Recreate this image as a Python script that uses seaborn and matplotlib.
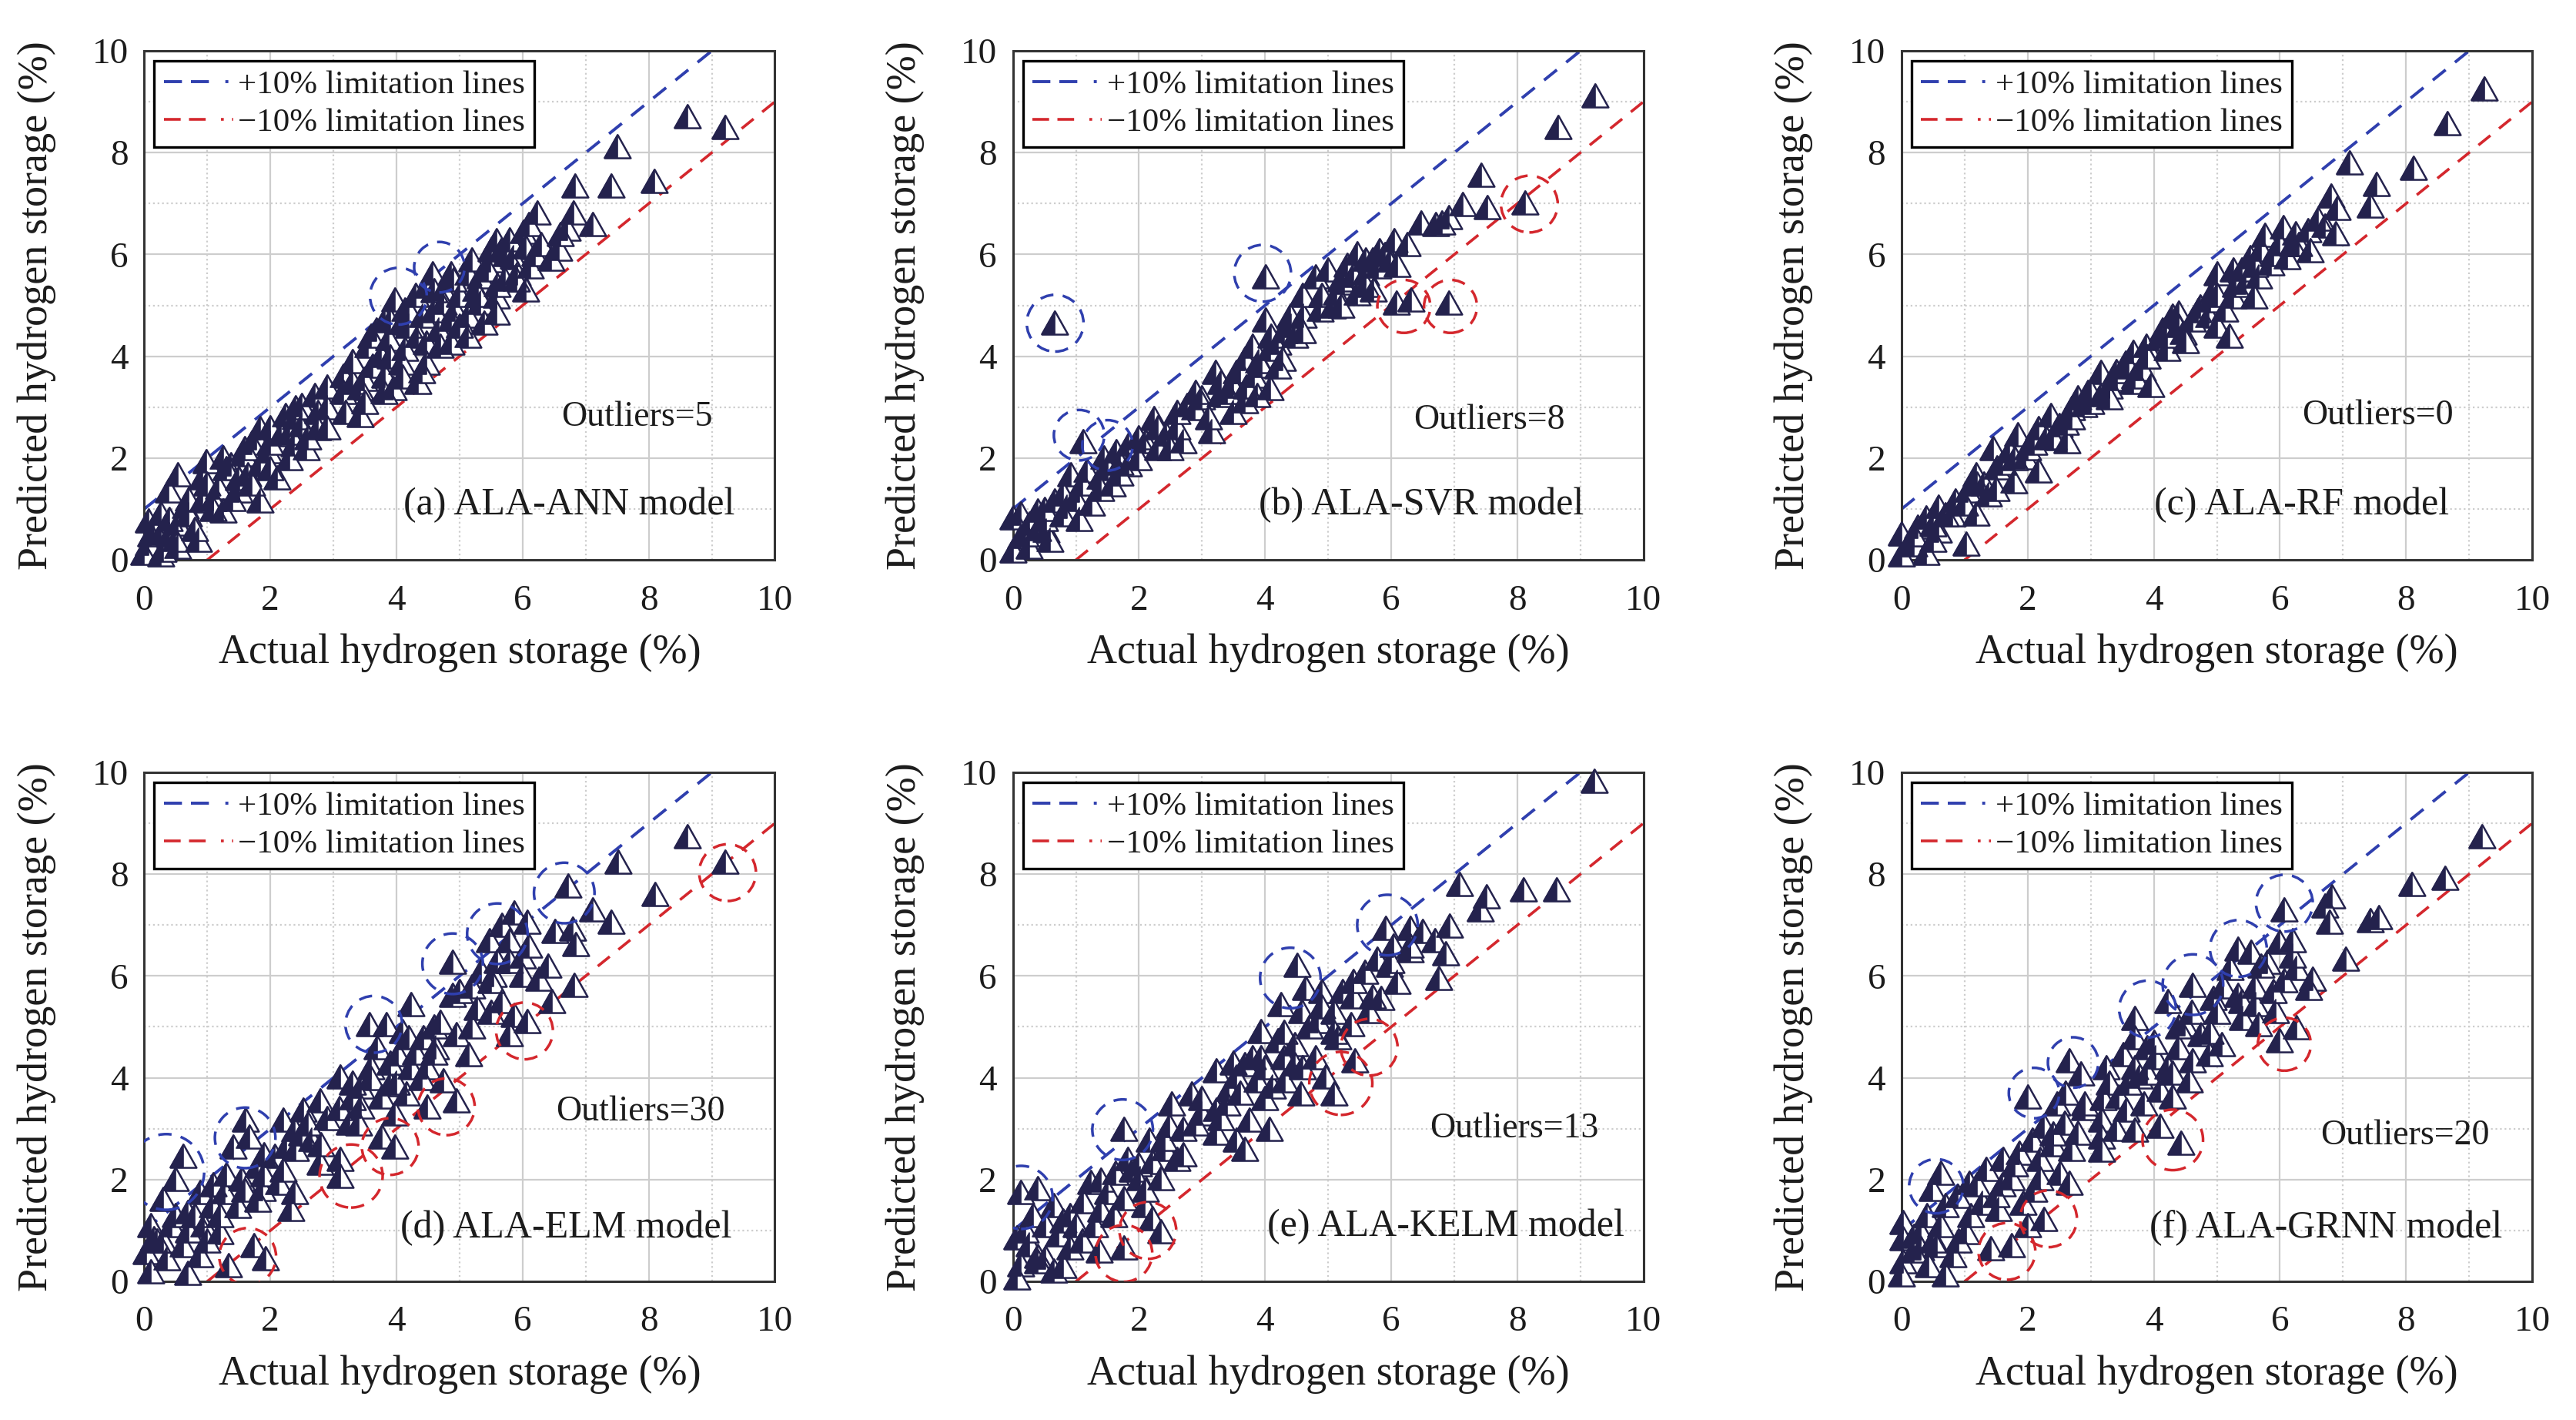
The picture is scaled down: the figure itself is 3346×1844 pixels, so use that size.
import matplotlib
matplotlib.use("Agg")
import matplotlib.pyplot as plt
from matplotlib.markers import MarkerStyle
from matplotlib.patches import Ellipse
from matplotlib.lines import Line2D
from matplotlib.ticker import MultipleLocator
from matplotlib.transforms import Affine2D
import seaborn as sns

# ---- data (actual vs predicted, %) ----
ann_actual = [8.62, 9.21, 7.50, 6.83, 7.40, 8.09, 6.24, 6.81, 7.11, 6.71,
              6.02, 5.59, 6.58, 6.45, 6.05, 5.86, 5.66, 5.49, 6.12, 5.92,
              5.72, 5.33, 5.13, 4.87, 4.57, 4.47, 3.98, 4.74, 5.26, 5.59,
              6.05, 5.33, 4.93, 4.74, 4.14, 3.82, 3.68, 4.08, 4.41, 4.87,
              5.13, 5.59, 5.39, 4.67, 4.34, 3.88, 3.55, 5.13, 4.87, 4.47,
              4.14, 3.75, 4.08, 3.62, 4.47, 3.16, 3.49, 3.82, 4.34, 3.95,
              3.42, 3.16, 3.42, 2.70, 2.76, 2.50, 2.24, 2.50, 2.76, 2.17,
              1.84, 1.78, 2.37, 2.57, 1.97, 1.58, 1.38, 1.84, 2.11, 1.64,
              1.25, 0.99, 0.92, 0.53, 1.18, 1.51, 1.84, 0.92, 0.39, 0.66,
              1.25, 0.26, 0.07, 0.53, 0.86, 0.26, 0.07, 0.53, 0.00, 0.26,
              5.75, 5.45, 6.20, 5.00, 4.60, 4.20, 3.90, 3.30, 2.90, 2.40,
              2.00, 1.50, 1.10, 0.70, 0.40, 0.15, 1.70, 2.30,
              3.30, 3.60, 3.90, 4.20, 4.30, 4.60, 4.90, 5.20, 5.50, 5.80,
              6.10, 6.30, 6.60, 5.90, 5.60, 5.30, 5.00, 4.70, 4.40, 4.10,
              3.80, 3.50, 3.20, 2.90, 2.60, 2.30, 2.00, 1.70, 1.40, 1.10,
              0.80, 0.50, 0.30, 0.10, 0.40, 0.70, 1.00, 1.30, 1.60, 2.00,
              2.40, 2.90]
ann_pred = [8.71, 8.51, 8.12, 7.35, 7.35, 7.44, 6.83, 6.83, 6.60, 6.50,
            6.44, 6.28, 6.12, 5.92, 6.15, 5.95, 6.08, 5.89, 5.76, 5.63,
            5.50, 5.57, 5.63, 5.63, 5.63, 5.37, 5.11, 5.31, 5.31, 5.18,
            5.31, 5.05, 4.92, 5.05, 4.92, 4.72, 4.53, 4.66, 4.79, 4.72,
            4.79, 4.85, 4.66, 4.53, 4.40, 4.34, 4.21, 4.40, 4.27, 4.27,
            4.14, 4.01, 3.88, 3.82, 3.88, 3.62, 3.56, 3.62, 3.50, 3.37,
            3.37, 3.30, 2.85, 3.24, 2.91, 3.04, 2.85, 2.65, 2.59, 2.46,
            2.59, 2.39, 2.27, 2.20, 2.14, 2.07, 1.88, 1.88, 1.62, 1.68,
            2.01, 1.94, 1.62, 1.68, 1.42, 1.36, 1.17, 1.17, 1.36, 1.04,
            0.97, 0.91, 0.78, 0.71, 0.39, 0.52, 0.32, 0.26, 0.13, 0.10,
            6.00, 5.70, 6.00, 5.20, 4.90, 4.60, 4.00, 3.50, 3.00, 2.80,
            2.30, 1.60, 1.20, 0.90, 0.50, 0.60, 2.30, 2.50,
            3.90, 4.40, 4.70, 4.90, 5.20, 5.30, 5.50, 5.90, 6.10, 6.30,
            6.60, 6.20, 6.40, 5.50, 5.40, 5.20, 4.60, 4.20, 3.70, 3.60,
            3.30, 3.10, 2.90, 2.60, 2.40, 2.00, 1.80, 1.50, 1.20, 1.00,
            0.60, 0.40, 0.20, 0.50, 0.80, 1.20, 1.50, 1.80, 2.20, 2.60,
            3.00, 3.40]

svr_actual = [9.24, 8.65, 7.43, 8.12, 7.53, 7.14, 6.91, 6.71, 6.48, 6.80,
              6.25, 6.05, 5.82, 5.46, 5.99, 5.79, 5.59, 5.00, 4.80, 4.01,
              5.26, 5.46, 5.72, 5.13, 6.09, 6.32, 6.91, 5.07, 4.87, 4.61,
              4.41, 4.01, 4.47, 4.21, 4.08, 0.66, 4.28, 3.95, 3.68, 3.55,
              3.82, 3.22, 4.08, 3.88, 3.68, 3.49, 3.29, 2.76, 2.89, 3.16,
              2.24, 2.43, 2.70, 2.11, 1.84, 1.64, 1.12, 1.45, 1.84, 1.18,
              0.92, 1.38, 1.58, 1.05, 1.25, 0.86, 0.66, 0.39, 0.13, 0.00,
              0.26, 0.53, 0.13, 0.59, 0.00, 0.26, 1.05, 4.60, 5.30, 5.60,
              2.00, 2.30, 3.00, 3.50, 1.50, 0.80, 0.40,
              5.20, 5.70, 4.30, 3.90, 3.40, 2.60, 1.70, 1.00, 0.50,
              0.20, 0.50, 0.80, 1.10, 1.40, 1.70, 2.00, 2.30, 2.60, 2.90,
              3.30, 3.60, 3.80, 4.10, 4.40, 4.60, 4.90, 5.20, 5.40, 5.60,
              5.90, 6.10, 4.20, 3.70, 3.10, 2.50]
svr_pred = [9.12, 8.51, 7.57, 7.02, 6.93, 6.99, 6.73, 6.60, 6.63, 6.62,
            6.21, 6.28, 6.08, 6.02, 5.89, 5.76, 5.63, 5.70, 5.57, 5.57,
            5.44, 5.24, 5.31, 5.24, 5.05, 5.11, 5.05, 4.98, 4.92, 4.79,
            4.60, 4.72, 4.40, 4.27, 4.14, 4.66, 3.95, 3.82, 3.95, 3.69,
            3.62, 3.69, 3.37, 3.24, 3.11, 2.91, 3.24, 3.04, 2.98, 2.52,
            2.78, 2.46, 2.33, 2.33, 2.27, 2.14, 2.33, 2.01, 1.88, 1.75,
            1.68, 1.62, 1.49, 1.36, 1.10, 1.04, 1.17, 0.97, 0.91, 0.84,
            0.71, 0.58, 0.45, 0.39, 0.19, 0.26, 0.80, 5.20, 5.80, 5.90,
            2.00, 2.20, 3.20, 3.40, 1.80, 1.30, 0.60,
            5.50, 5.90, 4.50, 3.90, 3.30, 2.60, 1.90, 1.20, 0.80,
            0.50, 1.00, 0.90, 1.50, 1.40, 1.70, 2.40, 2.60, 2.90, 3.30,
            3.50, 3.70, 4.20, 4.40, 4.80, 4.50, 5.20, 5.00, 5.60, 5.40,
            6.00, 5.80, 3.80, 3.40, 2.80, 2.20]

rf_actual = [9.24, 8.65, 7.11, 8.12, 7.53, 7.43, 6.81, 6.91, 6.71, 6.88,
             6.45, 6.48, 6.25, 6.05, 5.76, 5.99, 6.12, 5.86, 5.53, 5.66,
             5.46, 5.00, 5.26, 5.59, 5.26, 5.13, 4.74, 4.87, 4.61, 5.00,
             5.20, 4.47, 4.14, 4.08, 4.21, 3.88, 3.68, 3.55, 3.82, 3.16,
             3.42, 3.68, 3.95, 3.16, 2.89, 2.70, 2.37, 2.50, 2.17, 2.63,
             2.30, 1.84, 1.45, 1.71, 1.97, 2.17, 1.51, 1.18, 1.78, 1.05,
             1.38, 0.86, 0.59, 1.18, 0.39, 0.26, 0.00, 0.59, 1.02, 0.13,
             0.39, 0.00, 4.40, 4.95, 3.30, 2.95,
             5.70, 5.40, 6.30, 4.90, 4.40, 3.90, 3.40, 3.00, 2.60, 2.00,
             1.60, 1.30, 0.80, 0.50, 0.20,
             0.20, 0.50, 0.70, 1.00, 1.20, 1.50, 1.80, 2.10, 2.40, 2.70,
             3.00, 3.30, 3.60, 3.90, 4.20, 4.50, 4.70, 5.00, 5.30, 5.60,
             5.90, 6.20, 6.60, 4.30, 3.70, 2.80]
rf_pred = [9.26, 8.58, 7.80, 7.70, 7.38, 6.96, 7.15, 6.92, 6.57, 6.41,
           6.47, 6.08, 6.41, 6.54, 6.38, 6.21, 5.95, 5.83, 5.95, 5.57,
           5.44, 5.63, 5.70, 5.18, 5.18, 4.92, 4.98, 4.79, 4.72, 4.60,
           4.40, 4.47, 4.53, 4.34, 4.14, 4.21, 4.08, 3.88, 3.75, 3.69,
           3.56, 3.50, 3.43, 3.24, 3.04, 2.98, 2.85, 2.65, 2.59, 2.33,
           2.39, 2.46, 2.20, 2.14, 2.01, 1.75, 1.81, 1.68, 1.55, 1.36,
           1.29, 1.17, 1.04, 0.91, 0.84, 0.65, 0.52, 0.58, 0.32, 0.32,
           0.13, 0.10, 4.85, 5.30, 3.40, 3.30,
           6.10, 5.70, 6.20, 5.10, 4.60, 4.00, 3.70, 3.10, 2.70, 2.20,
           1.90, 1.50, 0.90, 0.70, 0.30,
           0.50, 0.40, 0.90, 1.10, 1.50, 1.40, 2.00, 2.30, 2.40, 2.80,
           3.30, 3.20, 3.80, 4.00, 4.40, 4.30, 4.90, 5.20, 5.40, 5.80,
           6.00, 6.20, 6.70, 4.80, 3.60, 3.20]

elm_actual = [8.62, 9.21, 7.51, 6.72, 8.10, 7.11, 7.41, 6.52, 6.79, 6.85,
              5.87, 6.07, 5.67, 5.48, 5.80, 6.00, 4.89, 5.34, 5.54, 6.00,
              6.26, 6.82, 6.46, 4.89, 4.23, 5.28, 5.67, 5.87, 6.07, 5.80,
              3.57, 3.84, 4.10, 4.43, 4.95, 4.62, 5.15, 3.70, 4.03, 4.23,
              4.49, 4.75, 3.90, 3.44, 3.11, 3.77, 4.16, 4.49, 4.95, 3.44,
              3.25, 3.97, 3.77, 3.97, 2.79, 2.52, 2.20, 2.39, 2.66, 2.79,
              3.11, 3.11, 2.26, 2.07, 1.61, 1.67, 1.41, 1.80, 1.54, 2.13,
              2.39, 1.87, 1.28, 1.48, 2.33, 0.62, 0.49, 0.30, 0.89, 1.08,
              0.69, 0.43, 0.95, 1.21, 0.10, 0.16, 0.62, 0.03, 0.36, 0.89,
              1.74, 1.93, 1.34, 0.10, 0.69,
              5.20, 5.60, 4.60, 4.30, 3.60, 3.30, 2.90, 2.40, 1.90, 1.20,
              0.70, 0.30, 4.00, 5.50,
              0.20, 0.50, 0.80, 1.00, 1.30, 1.60, 1.90, 2.20, 2.50, 2.80,
              3.10, 3.40, 3.60, 3.90, 4.20, 4.40, 4.70, 5.00, 5.20, 5.50,
              5.80, 6.10, 6.40, 4.60, 3.30, 2.60, 1.80, 1.10]
elm_pred = [8.74, 8.25, 8.25, 7.77, 7.61, 7.31, 7.06, 6.89, 6.93, 6.63,
            7.25, 7.06, 7.00, 6.70, 6.70, 6.38, 6.28, 6.09, 6.02, 6.02,
            5.95, 5.83, 5.50, 5.63, 5.44, 5.37, 5.50, 5.24, 5.11, 4.85,
            5.05, 5.05, 4.92, 4.79, 4.85, 4.60, 4.47, 4.60, 4.47, 4.21,
            4.21, 3.95, 3.88, 3.82, 4.02, 3.63, 3.69, 3.43, 3.56, 3.43,
            3.11, 3.30, 2.85, 2.65, 3.56, 3.37, 3.17, 2.98, 2.78, 2.33,
            2.40, 2.08, 2.65, 2.46, 3.17, 2.85, 2.65, 2.27, 2.01, 1.94,
            1.75, 1.81, 1.75, 1.49, 1.42, 2.46, 2.01, 1.62, 1.75, 1.49,
            1.36, 1.10, 1.10, 0.97, 1.10, 0.84, 0.71, 0.58, 0.45, 0.52,
            0.71, 0.45, 0.32, 0.19, 0.16,
            5.80, 6.30, 5.00, 4.50, 4.20, 3.60, 3.20, 2.60, 2.10, 1.30,
            1.00, 0.80, 3.90, 5.30,
            0.80, 1.30, 1.30, 0.80, 2.10, 1.80, 2.50, 2.20, 2.90, 2.70,
            3.40, 3.10, 4.00, 4.30, 4.80, 4.00, 5.10, 5.70, 5.00, 5.90,
            6.30, 6.60, 6.20, 4.50, 3.90, 3.10, 1.60, 1.90]

kelm_actual = [9.22, 7.08, 7.51, 8.10, 8.62, 7.41, 5.91, 6.30, 6.50, 6.93,
               6.70, 6.86, 6.76, 6.04, 5.78, 5.58, 5.97, 6.10, 5.84, 5.65,
               4.51, 4.64, 4.90, 5.23, 4.25, 4.58, 4.84, 5.36, 5.16, 5.42,
               3.94, 4.21, 4.47, 4.80, 4.47, 3.94, 3.68, 3.55, 3.87, 4.12,
               4.32, 4.96, 5.09, 4.57, 3.23, 3.42, 2.84, 2.52, 3.23, 3.75,
               4.07, 3.23, 3.55, 3.68, 1.76, 2.16, 2.48, 2.41, 2.61, 2.22,
               1.82, 1.63, 2.02, 2.35, 1.24, 1.50, 1.76, 2.09, 2.22, 2.35,
               1.76, 1.11, 0.91, 1.30, 0.65, 0.39, 0.13, 0.32, 0.52, 0.07,
               0.26, 0.72, 0.91, 1.37, 0.52, 0.13, 0.65, 0.07,
               5.40, 5.10, 4.30, 4.00, 3.00, 2.70, 2.00, 1.40, 1.00, 0.40,
               0.80, 6.30, 3.40,
               0.20, 0.40, 0.80, 1.10, 1.40, 1.60, 1.90, 2.10, 2.40, 2.70,
               3.00, 3.30, 3.60, 3.80, 4.00, 4.30, 4.60, 4.90, 5.10, 5.40,
               5.70, 6.00, 6.30, 4.70, 3.50, 2.90]
kelm_pred = [9.84, 7.80, 7.57, 7.70, 7.70, 7.31, 6.95, 6.95, 6.89, 6.99,
             6.70, 6.44, 5.96, 6.60, 6.34, 6.08, 6.21, 5.89, 5.57, 5.31,
             6.21, 5.76, 5.70, 5.70, 5.44, 5.31, 5.11, 5.05, 4.79, 4.34,
             4.92, 4.73, 4.66, 4.40, 4.27, 4.40, 4.27, 4.02, 3.95, 3.82,
             3.95, 4.02, 3.69, 3.69, 4.15, 3.76, 3.69, 3.50, 3.37, 3.18,
             2.99, 2.92, 2.79, 2.60, 2.99, 2.79, 3.05, 2.60, 2.40, 2.34,
             2.40, 2.14, 2.02, 2.02, 1.95, 1.76, 1.63, 1.50, 1.24, 0.99,
             0.67, 1.57, 1.30, 1.11, 1.50, 1.83, 1.76, 1.30, 1.11, 0.86,
             0.73, 0.92, 0.67, 0.60, 0.47, 0.34, 0.21, 0.08,
             5.60, 5.30, 4.40, 4.20, 3.30, 3.00, 2.30, 1.40, 1.10, 0.50,
             0.30, 6.50, 3.50,
             1.00, 0.40, 1.20, 0.80, 2.00, 1.30, 2.20, 1.80, 2.80, 2.50,
             3.60, 3.20, 3.70, 4.40, 3.60, 4.90, 4.20, 5.40, 4.90, 5.90,
             5.60, 6.30, 6.60, 5.00, 4.30, 3.10]

grnn_actual = [9.21, 8.62, 8.10, 6.82, 6.72, 7.44, 7.57, 6.79, 6.07, 7.05,
               6.00, 5.34, 5.54, 5.80, 6.26, 6.52, 6.46, 6.07, 5.21, 4.62,
               4.23, 4.95, 5.34, 5.61, 5.93, 5.41, 5.67, 6.26, 6.00, 3.70,
               4.49, 4.75, 5.08, 4.88, 4.62, 3.90, 3.70, 3.51, 4.03, 4.23,
               3.77, 4.56, 4.10, 4.30, 3.44, 3.57, 3.84, 2.66, 2.85, 3.25,
               2.00, 2.46, 2.26, 2.59, 2.79, 3.18, 3.18, 3.18, 3.70, 4.10,
               4.43, 2.07, 1.87, 1.61, 2.20, 2.52, 2.66, 2.20, 1.74, 1.34,
               1.08, 0.62, 0.49, 0.89, 1.28, 1.54, 1.93, 2.26, 2.00, 1.74,
               1.41, 0.03, 0.30, 0.62, 1.02, 0.03, 0.30, 0.56, 0.82, 0.03,
               0.43, 0.00, 0.69,
               5.00, 5.60, 6.20, 4.40, 3.30, 2.90, 2.40, 1.60, 1.10, 0.50,
               0.20, 3.90,
               0.20, 0.40, 0.70, 0.90, 1.20, 1.50, 1.80, 2.10, 2.40, 2.70,
               2.90, 3.20, 3.40, 3.70, 4.00, 4.30, 4.60, 4.90, 5.10, 5.40,
               5.70, 5.90, 6.20, 4.40, 3.60, 2.60]
grnn_pred = [8.74, 7.93, 7.80, 7.57, 7.38, 7.09, 7.15, 7.06, 7.31, 6.34,
             6.67, 6.54, 6.47, 6.28, 6.15, 5.95, 5.76, 5.92, 6.15, 5.83,
             5.50, 5.57, 5.63, 5.44, 5.31, 5.18, 5.05, 4.99, 4.73, 5.18,
             5.05, 4.85, 4.66, 4.47, 4.34, 4.60, 4.79, 4.47, 4.40, 4.21,
             4.02, 3.95, 3.76, 3.63, 3.63, 3.37, 3.50, 4.34, 4.08, 4.21,
             3.63, 3.50, 3.05, 3.11, 2.92, 3.18, 2.85, 2.59, 2.98, 3.05,
             2.72, 2.79, 2.53, 2.40, 2.40, 2.14, 1.94, 2.02, 2.02, 2.21,
             1.94, 2.14, 1.81, 1.68, 1.55, 1.42, 1.55, 1.23, 1.10, 0.71,
             0.65, 1.17, 0.97, 1.10, 0.97, 0.84, 0.65, 0.71, 0.52, 0.39,
             0.32, 0.13, 0.13,
             5.30, 5.80, 6.40, 4.60, 3.90, 3.40, 2.70, 1.90, 1.30, 0.80,
             0.60, 4.10,
             0.90, 1.30, 1.50, 0.80, 1.90, 1.70, 2.30, 1.80, 2.90, 2.60,
             3.50, 3.60, 3.00, 4.20, 4.70, 4.10, 5.30, 4.90, 5.80, 5.50,
             6.20, 5.70, 6.70, 5.00, 3.90, 3.70]

# circled outliers: (centre x, centre y, radius in x units)
ann_over = [(4.03, 5.18, 0.45), (4.68, 5.75, 0.40)]
ann_under = []
svr_over = [(0.67, 4.65, 0.45), (3.96, 5.63, 0.45), (1.05, 2.45, 0.40), (1.50, 2.25, 0.40)]
svr_under = [(8.19, 6.99, 0.45), (6.20, 4.98, 0.42), (6.94, 4.98, 0.42)]
rf_over = []
rf_under = []
elm_over = [(0.35, 2.15, 0.60), (1.60, 2.82, 0.48), (3.64, 5.05, 0.45),
            (4.89, 6.24, 0.48), (5.60, 6.83, 0.48), (6.66, 7.63, 0.48)]
elm_under = [(9.25, 8.03, 0.45), (6.03, 4.92, 0.45), (4.79, 3.43, 0.45),
             (3.90, 2.65, 0.45), (3.28, 2.07, 0.50), (1.64, 0.49, 0.45)]
kelm_over = [(0.13, 1.65, 0.50), (1.74, 2.98, 0.48), (4.40, 5.96, 0.48), (5.94, 7.00, 0.48)]
kelm_under = [(2.14, 1.00, 0.45), (1.76, 0.55, 0.45), (5.20, 3.89, 0.50), (5.65, 4.60, 0.45)]
grnn_over = [(0.55, 1.87, 0.43), (2.10, 3.70, 0.40), (2.72, 4.30, 0.40), (3.90, 5.35, 0.45),
             (4.62, 5.83, 0.48), (5.34, 6.54, 0.45), (6.07, 7.43, 0.45)]
grnn_under = [(6.07, 4.66, 0.42), (4.30, 2.78, 0.48), (2.33, 1.23, 0.45), (1.67, 0.59, 0.45)]

panel_titles = ["(a) ALA-ANN model", "(b) ALA-SVR model", "(c) ALA-RF model",
                "(d) ALA-ELM model", "(e) ALA-KELM model", "(f) ALA-GRNN model"]
outlier_counts = [5, 8, 0, 30, 13, 20]

# +/- limitation lines (end points)
upper_x, upper_y = [0, 9], [1, 10]
lower_x, lower_y = [1, 10], [0, 9]

panels = [
    (ann_actual, ann_pred, ann_over, ann_under),
    (svr_actual, svr_pred, svr_over, svr_under),
    (rf_actual, rf_pred, rf_over, rf_under),
    (elm_actual, elm_pred, elm_over, elm_under),
    (kelm_actual, kelm_pred, kelm_over, kelm_under),
    (grnn_actual, grnn_pred, grnn_over, grnn_under),
]

# ---- styling ----
sns.set_theme(style="white")
plt.rcParams["font.family"] = ["Liberation Serif", "DejaVu Serif"]

navy = "#24224d"
blue = "#2f3fae"
red = "#d4272d"
gridc = "#cdcdcd"
textc = "#1c1c1c"

W, H = 3346, 1844
fig = plt.figure(figsize=(W / 100, H / 100), dpi=100)

lefts = [0.0560, 0.3932, 0.7382]
bottoms = [0.6057, 0.0976]
aw, ah = 0.2448, 0.3585

text_pos = [(0.674, 0.107, 0.781, 0.281), (0.648, 0.107, 0.755, 0.275),
            (0.634, 0.107, 0.755, 0.284), (0.669, 0.105, 0.787, 0.333),
            (0.686, 0.108, 0.795, 0.300), (0.673, 0.105, 0.798, 0.286)]

# triangles are a little wider than tall in the original
widen = Affine2D().scale(1.12, 1.0)
full_tri = MarkerStyle("^", transform=widen)
half_tri = MarkerStyle("^", fillstyle="left", transform=widen)
msize = 470
limit_ls = (0, (5.5, 4.0))

for i, (xs, ys, over, under) in enumerate(panels):
    ax = fig.add_axes([lefts[i % 3], bottoms[i // 3], aw, ah])
    ax.set_xlim(0, 10)
    ax.set_ylim(0, 10)

    ax.xaxis.set_major_locator(MultipleLocator(2))
    ax.yaxis.set_major_locator(MultipleLocator(2))
    ax.xaxis.set_minor_locator(MultipleLocator(1))
    ax.yaxis.set_minor_locator(MultipleLocator(1))
    ax.grid(True, which="major", color=gridc, lw=1.6, ls="-")
    ax.grid(True, which="minor", color=gridc, lw=1.6, ls=":")
    ax.set_axisbelow(True)

    # limitation lines
    sns.lineplot(x=upper_x, y=upper_y, ax=ax, color=blue, lw=2.8,
                 linestyle=limit_ls, zorder=2)
    sns.lineplot(x=lower_x, y=lower_y, ax=ax, color=red, lw=2.6,
                 linestyle=limit_ls, zorder=2)

    # half-filled triangles: white body + navy left half
    sns.scatterplot(x=xs, y=ys, ax=ax, marker=full_tri, s=msize, color="white",
                    edgecolor=navy, linewidth=1.8, clip_on=False, zorder=3)
    sns.scatterplot(x=xs, y=ys, ax=ax, marker=half_tri, s=msize, color=navy,
                    edgecolor=navy, linewidth=1.2, clip_on=False, zorder=3)

    # outlier circles (kept round on screen)
    pos = ax.get_position()
    stretch = (pos.width * W) / (pos.height * H)
    for cx, cy, r in over:
        ax.add_patch(Ellipse((cx, cy), 2 * r, 2 * r * stretch, fill=False,
                             ec=blue, lw=2.5, ls=(0, (5, 3.5)), zorder=4))
    for cx, cy, r in under:
        ax.add_patch(Ellipse((cx, cy), 2 * r, 2 * r * stretch, fill=False,
                             ec=red, lw=2.5, ls=(0, (5, 3.5)), zorder=4))

    tx, ty, ox, oy = text_pos[i]
    ax.text(tx, ty, panel_titles[i], transform=ax.transAxes, ha="center",
            va="center", fontsize=36, color=textc, zorder=5)
    ax.text(ox, oy, f"Outliers={outlier_counts[i]}", transform=ax.transAxes,
            ha="center", va="center", fontsize=33, color=textc, zorder=5)

    handles = [
        Line2D([], [], color=blue, lw=2.8, ls=(0, (6, 3, 6, 5.5, 1, 3))),
        Line2D([], [], color=red, lw=2.6, ls=(0, (6, 3, 6, 5.5, 1, 3))),
    ]
    leg = ax.legend(handles, ["+10% limitation lines", "\u221210% limitation lines"],
                    loc="upper left", bbox_to_anchor=(0.016, 0.98), borderaxespad=0,
                    fontsize=31, frameon=True, fancybox=False, framealpha=1,
                    edgecolor="black", handlelength=2.1, handletextpad=0.15,
                    labelspacing=0.22, borderpad=0.28)
    leg.get_frame().set_linewidth(2.4)
    leg.set_zorder(6)
    for t in leg.get_texts():
        t.set_color(textc)

    ax.set_xlabel("Actual hydrogen storage (%)", fontsize=39, color=textc)
    ax.set_ylabel("Predicted hydrogen storage (%)", fontsize=39, color=textc)
    ax.xaxis.set_label_coords(0.5, -0.145)
    ax.yaxis.set_label_coords(-0.14, 0.5)

    ax.tick_params(axis="both", which="major", direction="out", length=8,
                   width=1.6, color="#333333", labelsize=34, labelcolor=textc)
    ax.tick_params(axis="both", which="minor", direction="out", length=5,
                   width=1.4, color="#333333")
    ax.tick_params(axis="x", which="major", pad=15)
    ax.tick_params(axis="y", which="major", pad=7)
    for sp in ax.spines.values():
        sp.set_visible(True)
        sp.set_color("#333333")
        sp.set_linewidth(2.2)

fig.savefig("out.png", dpi=100, facecolor="white")
